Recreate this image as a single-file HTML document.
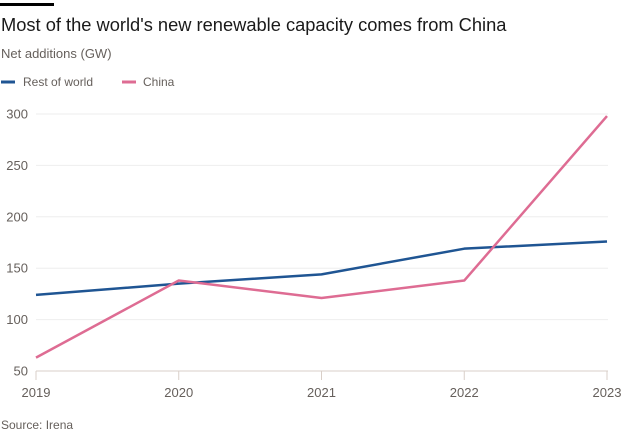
<!DOCTYPE html>
<html><head><meta charset="utf-8"><style>
body{margin:0;background:#fff;width:625px;height:436px;overflow:hidden;font-family:"Liberation Sans",sans-serif}
</style></head><body>
<svg id="chart" width="625" height="436" xmlns="http://www.w3.org/2000/svg">
<rect x="0" y="3" width="54" height="3" fill="#000"/>
<text x="1" y="31" font-size="18.3" fill="#1a1a1a">Most of the world's new renewable capacity comes from China</text>
<text x="1" y="58" font-size="13" fill="#66605c">Net additions (GW)</text>
<g>
<line x1="1" y1="82" x2="15" y2="82" stroke="#1f5593" stroke-width="3"/>
<text x="23" y="86" font-size="12" fill="#66605c">Rest of world</text>
<line x1="122" y1="82" x2="136" y2="82" stroke="#de6c93" stroke-width="3"/>
<text x="143" y="86" font-size="12" fill="#66605c">China</text>
</g>
<g id="axes"></g>
<g id="series"></g>
<text x="1" y="429" font-size="12" fill="#66605c">Source: Irena</text>
</svg>
<script>
const years = [2019, 2020, 2021, 2022, 2023];
const restOfWorld = [124, 135, 144, 169, 176];
const china = [63, 138, 121, 138, 298];
const yTicks = [50, 100, 150, 200, 250, 300];
const NS = "http://www.w3.org/2000/svg";
const x = i => 36 + i * (607 - 36) / (years.length - 1);
const y = v => 371 - (v - 50) * (371 - 114) / 250;
const axes = document.getElementById('axes');
const series = document.getElementById('series');
function mk(tag, attrs, parent) {
  const e = document.createElementNS(NS, tag);
  for (const k in attrs) e.setAttribute(k, attrs[k]);
  parent.appendChild(e);
  return e;
}
yTicks.forEach(t => {
  const g = mk('line', {x1: 36, x2: 608, y1: y(t), y2: y(t), stroke: t === 50 ? '#d9cfc8' : '#eeeeee', 'stroke-width': 1}, axes);
  
  
  const l = mk('text', {x: 28, y: y(t) + 4.5, 'text-anchor': 'end', 'font-size': 13, fill: '#66605c'}, axes);
  l.textContent = t;
  
  
});
years.forEach((yr, i) => {
  const tk = mk('line', {x1: x(i), x2: x(i), y1: 371, y2: 380, stroke: '#d9cfc8', 'stroke-width': 1}, axes);
  
  
  const l = mk('text', {x: x(i), y: 397, 'text-anchor': 'middle', 'font-size': 13, fill: '#66605c'}, axes);
  l.textContent = yr;
  
  
});
function line(vals, color, name) {
  const p = mk('polyline', {points: vals.map((v, i) => x(i) + ',' + y(v)).join(' '), fill: 'none', stroke: color, 'stroke-width': 2.5, 'stroke-linejoin': 'round'}, series);
  
  
}
line(restOfWorld, '#1f5593', 'line-rest-of-world');
line(china, '#de6c93', 'line-china');
</script>
</body></html>
